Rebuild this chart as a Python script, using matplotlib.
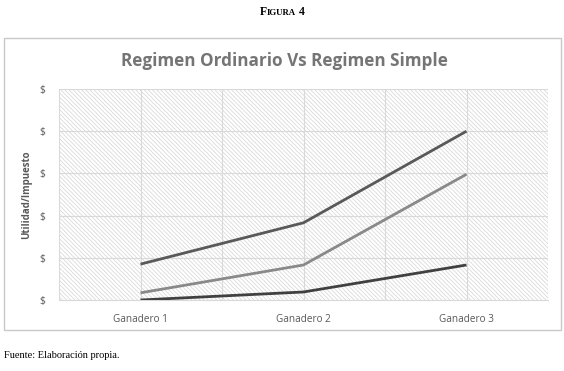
import matplotlib.pyplot as plt
import numpy as np
from matplotlib.patches import Rectangle
from matplotlib.offsetbox import TextArea, HPacker, AnchoredOffsetbox

# datos (unidades del eje, 0-5)
categorias = ["Ganadero 1", "Ganadero 2", "Ganadero 3"]
serie_alta = [0.85, 1.83, 4.0]
serie_media = [0.17, 0.83, 2.98]
serie_baja = [0.0, 0.19, 0.83]
ticks_y = [0, 1, 2, 3, 4, 5]
etiquetas_y = ["$"] * 6

plt.rcParams["hatch.color"] = "#d4d4d4"
plt.rcParams["hatch.linewidth"] = 0.5

fig = plt.figure(figsize=(5.64, 3.71), dpi=100)

# marco del grafico
marco = Rectangle((4 / 564, 1 - 330 / 371), 557 / 564, 292 / 371,
                  transform=fig.transFigure, facecolor="white",
                  edgecolor="#c8c8c8", linewidth=1.0, zorder=-5)
fig.patches.append(marco)

ax = fig.add_axes([59 / 564, 1 - 300 / 371, 489 / 564, 211 / 371])
ax.set_zorder(1)
ax.set_facecolor("white")
ax.add_patch(Rectangle((0, 0), 1, 1, transform=ax.transAxes, facecolor="none",
                       hatch="\\" * 8, edgecolor="#d4d4d4", linewidth=0, zorder=0))

x = np.arange(len(categorias))
ax.plot(x, serie_alta, color="#595959", linewidth=2.0, solid_capstyle="butt", zorder=3)
ax.plot(x, serie_media, color="#898989", linewidth=2.0, solid_capstyle="butt", zorder=3)
ax.plot(x, serie_baja, color="#404040", linewidth=2.0, solid_capstyle="butt", zorder=3)

ax.set_xlim(-0.5, 2.5)
ax.set_ylim(0, 5)
ax.set_xticks(x)
ax.set_xticklabels(categorias, fontsize=7.2, color="#595959", family="Open Sans")
ax.set_yticks(ticks_y)
ax.set_yticklabels(etiquetas_y, fontsize=7.5, color="#595959", family="Open Sans")
ax.tick_params(axis="both", which="both", length=0)
ax.tick_params(axis="x", pad=10)
ax.tick_params(axis="y", pad=10)
for xv in np.arange(-0.5, 2.51, 0.5):
    ax.axvline(xv, color="#d9d9d9", linewidth=0.8, zorder=1)
ax.grid(True, which="major", axis="y", color="#d9d9d9", linewidth=0.8)
ax.set_axisbelow(True)
for lado in ["top", "right", "left"]:
    ax.spines[lado].set_visible(False)
ax.spines["bottom"].set_color("#d9d9d9")

ax.set_ylabel("Utilidad/Impuesto", fontsize=7, color="#595959",
              fontweight="bold", family="Open Sans", labelpad=5)

fig.text(284 / 564, 1 - 61 / 371, "Regimen Ordinario Vs Regimen Simple", ha="center",
         va="center", fontsize=12.3, fontweight="bold", color="#757575", family="Open Sans")

# "Figura 4" en versalitas
prop_g = dict(fontsize=8.5, fontweight="bold", family="Liberation Serif")
prop_p = dict(fontsize=6.3, fontweight="bold", family="Liberation Serif")
caja = HPacker(children=[TextArea("F", textprops=prop_g),
                         TextArea("IGURA", textprops=prop_p),
                         TextArea(" 4", textprops=prop_g)],
               align="baseline", pad=0, sep=0)
anc = AnchoredOffsetbox(loc="center", child=caja, frameon=False,
                        bbox_to_anchor=(0.5, 1 - 12 / 371), bbox_transform=fig.transFigure,
                        borderpad=0, pad=0)
fig.add_artist(anc)

fig.text(4 / 564, 1 - 356 / 371, "Fuente: Elaboración propia.", ha="left", va="center",
         fontsize=7.5, family="Liberation Serif")

fig.savefig("out.png", dpi=100)
